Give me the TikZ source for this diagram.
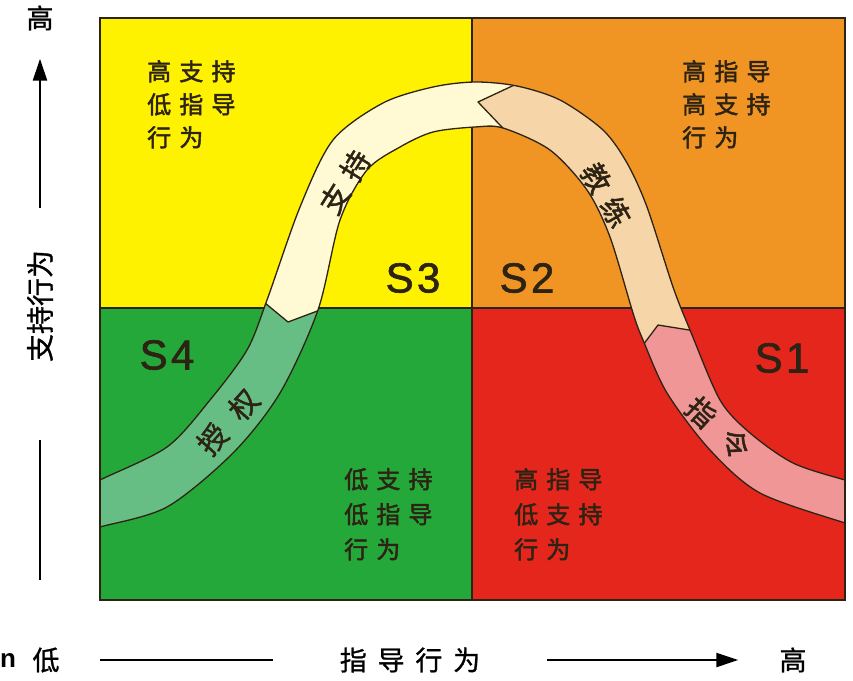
\documentclass[tikz,border=0pt]{standalone}
\usepackage{fontspec}
\usepackage{tikz}
\usetikzlibrary{arrows.meta}
\newfontfamily\cjk[FakeBold=1]{Noto Sans CJK SC}
\newfontfamily\cjkq[LetterSpace=34,FakeBold=2]{Noto Sans CJK SC}
\newfontfamily\cjkband[LetterSpace=35,FakeBold=1.5]{Noto Sans CJK SC}
\newfontfamily\cjkwide[LetterSpace=60,FakeBold=1.5]{Noto Sans CJK SC}
\newfontfamily\cjkaxis[LetterSpace=40,FakeBold=1]{Noto Sans CJK SC}
\newfontfamily\slab[LetterSpace=8,FakeBold=1.5]{Liberation Sans}
\newfontfamily\stray{Liberation Sans Bold}

\definecolor{quadyellow}{RGB}{255,242,0}
\definecolor{quadorange}{RGB}{240,148,36}
\definecolor{quadgreen}{RGB}{36,168,58}
\definecolor{quadred}{RGB}{228,38,28}
\definecolor{bandcream}{RGB}{255,250,212}
\definecolor{bandtan}{RGB}{246,214,168}
\definecolor{bandpink}{RGB}{240,150,150}
\definecolor{bandgreen}{RGB}{102,190,132}
\definecolor{edgedark}{RGB}{45,35,20}

\tikzset{
  bandshape/.style={insert path={
    plot[smooth] coordinates {(80,492) (100,480) (167,447) (210,400) (247,350) (267,300) (300,207) (333,140) (383,103) (433,87) (475,82) (517,86) (560,100) (603,130) (627,163) (647,207) (673,287) (690,330) (720,400) (750,433) (793,463) (845,480) (865,484)}
    -- plot[smooth] coordinates {(865,528) (845,523) (760,493) (710,450) (667,393) (643,340) (633,313) (610,237) (587,190) (550,150) (503,128) (475,127) (433,132) (400,147) (367,170) (340,220) (318,310) (280,393) (233,453) (167,507) (100,527) (80,533)}
    -- cycle}},
  quadtext/.style={align=left,anchor=north west,inner sep=0pt,text=edgedark},
  stagelabel/.style={inner sep=0pt,text=edgedark,font=\slab\fontsize{42}{42}\selectfont},
  bandtext/.style={inner sep=0pt,text=edgedark,font=\cjkband\fontsize{29}{29}\selectfont},
  bandwide/.style={inner sep=0pt,text=edgedark,font=\cjkwide\fontsize{29}{29}\selectfont},
  axistext/.style={inner sep=0pt,font=\cjkaxis\fontsize{27}{27}\selectfont},
  axisline/.style={line width=2.2pt},
}

\begin{document}
\begin{tikzpicture}[x=1pt,y=-1pt]
    \useasboundingbox (0,0) rectangle (853,680);

    % four quadrants
    \fill[quadyellow] (100,18) rectangle (472,308);
    \fill[quadorange] (472,18) rectangle (845,308);
    \fill[quadgreen] (100,308) rectangle (472,600);
    \fill[quadred] (472,308) rectangle (845,600);
    \draw[edgedark,line width=1.6pt] (100,308) -- (845,308) (472,18) -- (472,600);

    % the curved band
    \begin{scope}
        \clip (100,18) rectangle (845,600);
        \fill[bandcream,bandshape];
        \begin{scope}
            \clip (-10,700) -- (-10,284) -- (242,284) -- (288,322) -- (352,298) -- (400,298) -- (400,700) -- cycle;
            \fill[bandgreen,bandshape];
        \end{scope}
        \begin{scope}
            \clip (540,-10) -- (540,73) -- (478,102) -- (520,146) -- (600,365) -- (628,365) -- (658,325) -- (720,335) -- (900,335) -- (900,-10) -- cycle;
            \fill[bandtan,bandshape];
        \end{scope}
        \begin{scope}
            \clip (628,365) -- (658,325) -- (720,335) -- (900,335) -- (900,700) -- (600,700) -- (600,365) -- cycle;
            \fill[bandpink,bandshape];
        \end{scope}
        \begin{scope}
            \clip[bandshape];
            \draw[edgedark,line width=1.3pt,line join=round] (242,284) -- (288,322) -- (352,298);
            \draw[edgedark,line width=1.3pt,line join=round] (540,73) -- (478,102) -- (520,146);
            \draw[edgedark,line width=1.3pt,line join=round] (628,365) -- (658,325) -- (720,335);
        \end{scope}
        \draw[edgedark,line width=1.3pt,bandshape];
    \end{scope}
    \draw[edgedark,line width=2pt] (100,18) rectangle (845,600);

    % quadrant texts
    \node[quadtext,font=\cjkq\fontsize{24}{33}\selectfont] (ylwtext) at (147,60) {高支持\\低指导\\行为};
    \node[quadtext,font=\cjkq\fontsize{24}{33}\selectfont] (orgtext) at (682,60) {高指导\\高支持\\行为};
    \node[quadtext,font=\cjkq\fontsize{24}{35}\selectfont] (grntext) at (344,468) {低支持\\低指导\\行为};
    \node[quadtext,font=\cjkq\fontsize{24}{35}\selectfont] (redtext) at (514,468) {高指导\\低支持\\行为};

    % stage labels
    \node[stagelabel] (sone) at (782,358) {S1};
    \node[stagelabel] (stwo) at (527,278) {S2};
    \node[stagelabel] (sthree) at (413,278) {S3};
    \node[stagelabel] (sfour) at (167,355) {S4};

    % band labels
    \node[bandwide,rotate=-43] (direct) at (718,428) {指令};
    \node[bandtext,rotate=-60] (coach) at (606,195) {教练};
    \node[bandtext,rotate=58] (support) at (345,182) {支持};
    \node[bandwide,rotate=48] (delegate) at (228,422) {授权};

    % axes
    \node[axistext] (yhigh) at (40,18) {高};
    \node[inner sep=0pt,font=\cjk\fontsize{28}{28}\selectfont,rotate=90] (ylabel) at (40,306) {支持行为};
    \coordinate (ybottom) at (40,580);
    \draw[axisline,-{Triangle[length=22pt,width=14pt]},shorten <=42pt,shorten >=28pt] (ylabel) -- (yhigh);
    \draw[axisline,shorten <=78pt] (ylabel) -- (ybottom);

    \node[anchor=west,inner sep=0pt,font=\stray\fontsize{26}{26}\selectfont] (cutoff) at (0,660) {n};
    \node[axistext] (xlow) at (46,660) {低};
    \node[axistext] (xlabel) at (410,660) {指导行为};
    \node[axistext] (xhigh) at (793,660) {高};
    \draw[axisline,shorten <=40pt,shorten >=67pt] (xlow) -- (xlabel);
    \draw[axisline,-{Triangle[length=22pt,width=14pt]},shorten <=67pt,shorten >=41pt] (xlabel) -- (xhigh);
\end{tikzpicture}
\end{document}
